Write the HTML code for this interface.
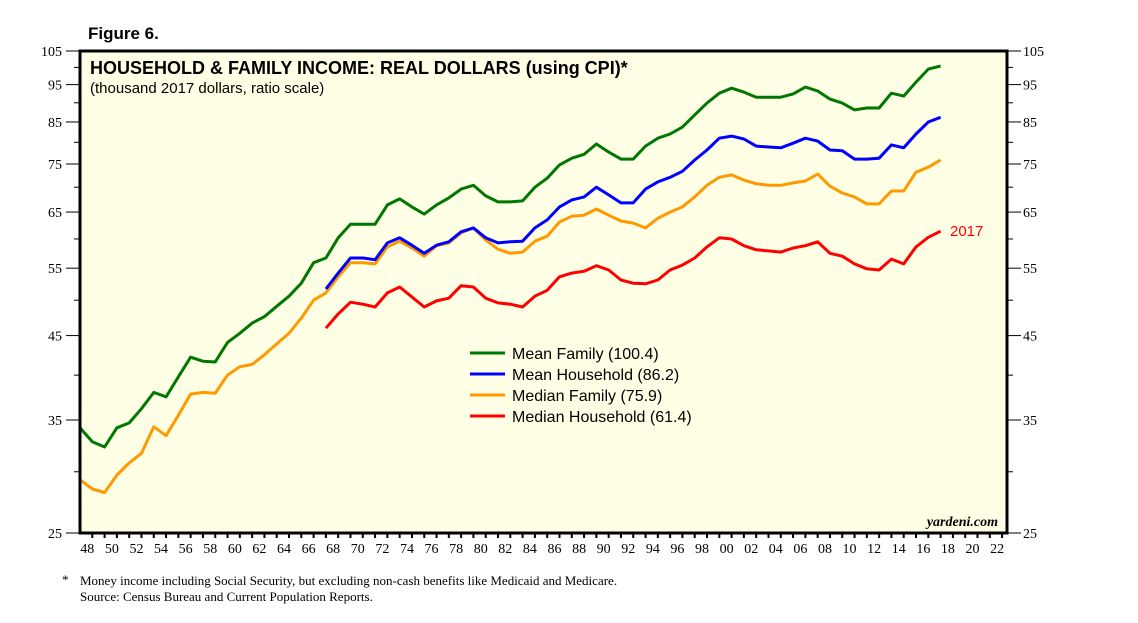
<!DOCTYPE html>
<html><head><meta charset="utf-8"><style>
body{margin:0;background:#fff;}
svg{display:block;font-family:"Liberation Sans",sans-serif;}
</style></head><body>
<svg id="chart" width="1138" height="623" xmlns="http://www.w3.org/2000/svg">
<text x="88" y="39" font-size="17" font-weight="bold">Figure 6.</text>
<rect x="80" y="51" width="927" height="482" fill="#FFFFE6"/>
<g id="grid"></g>
<g id="series"></g>
<rect x="80" y="51" width="927" height="482" fill="none" stroke="#000" stroke-width="3"/>
<text x="90" y="74" font-size="18" font-weight="bold">HOUSEHOLD &amp; FAMILY INCOME: REAL DOLLARS (using CPI)*</text>
<text x="90" y="93" font-size="15">(thousand 2017 dollars, ratio scale)</text>
<text x="998" y="526" font-size="14" font-style="italic" font-weight="bold" text-anchor="end" font-family="Liberation Serif, serif">yardeni.com</text>
<g id="legend"></g>
<text x="62" y="584" font-size="13" font-family="Liberation Serif, serif">*</text>
<text x="80" y="585" font-size="13" font-family="Liberation Serif, serif">Money income including Social Security, but excluding non-cash benefits like Medicaid and Medicare.</text>
<text x="80" y="601" font-size="13" font-family="Liberation Serif, serif">Source: Census Bureau and Current Population Reports.</text>
</svg>
<script>
const meanFamily=[34.2,32.8,32.3,34.2,34.7,36.2,38.0,37.5,39.8,42.2,41.7,41.6,44.1,45.3,46.7,47.6,49.1,50.6,52.6,55.9,56.7,60.2,62.7,62.7,62.7,66.4,67.6,66.0,64.6,66.4,67.8,69.6,70.4,68.2,67.0,67.0,67.2,70.0,71.9,74.8,76.3,77.2,79.6,77.7,76.1,76.1,79.1,81.0,82.0,83.7,86.8,89.9,92.6,94.0,92.9,91.5,91.5,91.5,92.4,94.3,93.2,91.0,89.9,88.1,88.6,88.6,92.6,91.8,95.7,99.5,100.4];
const meanHousehold=[51.7,54.2,56.7,56.7,56.4,59.3,60.2,58.9,57.5,58.9,59.5,61.3,62.0,60.2,59.3,59.5,59.6,62.0,63.5,66.0,67.4,68.0,70.0,68.4,66.8,66.8,69.6,71.1,72.1,73.4,75.9,78.2,81.0,81.5,80.8,79.1,78.9,78.7,79.8,81.0,80.3,78.2,78.0,76.1,76.1,76.3,79.4,78.7,82.0,85.0,86.2];
const medianFamily=[29.3,28.5,28.2,29.7,30.8,31.7,34.3,33.4,35.5,37.8,38.0,37.9,40.0,41.0,41.3,42.5,43.9,45.3,47.4,50.0,51.1,53.6,55.9,55.9,55.7,58.6,59.6,58.4,57.0,58.8,59.3,61.1,62.0,59.8,58.2,57.5,57.7,59.6,60.5,63.1,64.2,64.4,65.6,64.4,63.3,62.9,62.0,63.8,65.0,66.0,68.0,70.4,72.1,72.6,71.5,70.7,70.4,70.4,70.9,71.3,72.8,70.2,68.8,68.0,66.6,66.6,69.2,69.2,73.2,74.3,75.9];
const medianHousehold=[46.0,48.0,49.7,49.4,49.0,51.1,52.0,50.5,49.0,49.9,50.3,52.2,52.0,50.3,49.6,49.4,49.0,50.6,51.5,53.6,54.2,54.5,55.4,54.7,53.1,52.6,52.5,53.1,54.7,55.5,56.7,58.6,60.2,60.0,58.8,58.1,57.9,57.7,58.4,58.8,59.5,57.5,57.0,55.7,54.9,54.7,56.5,55.7,58.6,60.3,61.4];
const yTicks=[25,35,45,55,65,75,85,95,105];
const yMinor=[30,40,50,60,70,80,90,100];
const xYears=[];for(let y=1948;y<=2022;y+=2)xYears.push(y);
const legendLabels=["Mean Family (100.4)","Mean Household (86.2)","Median Family (75.9)","Median Household (61.4)"];

const NS="http://www.w3.org/2000/svg";
const X0=80,X1=1007,Y0=51,Y1=533,VMIN=25,VMAX=105,YRMIN=1947,YRMAX=2022.4;
function xs(yr){return X0+(yr-YRMIN)/(YRMAX-YRMIN)*(X1-X0);}
function ys(v){return Y1-Math.log(v/VMIN)/Math.log(VMAX/VMIN)*(Y1-Y0);}
function mk(tag,attrs,parent){const e=document.createElementNS(NS,tag);for(const k in attrs)e.setAttribute(k,attrs[k]);parent.appendChild(e);return e;}
const grid=document.getElementById('grid');
yTicks.forEach(v=>{
  const y=ys(v);
  let t=mk('line',{x1:66,x2:80,y1:y,y2:y,stroke:'#000','stroke-width':1},grid);
  
  
  t=mk('line',{x1:1007,x2:1021,y1:y,y2:y,stroke:'#000','stroke-width':1},grid);
  
  
  let l=mk('text',{x:62,y:y+5,'font-size':14,'text-anchor':'end','font-family':'Liberation Serif, serif'},grid);l.textContent=v;
  
  
  l=mk('text',{x:1023,y:y+5,'font-size':14,'font-family':'Liberation Serif, serif'},grid);l.textContent=v;
  
  
});
yMinor.forEach(v=>{
  const y=ys(v);
  let t=mk('line',{x1:74,x2:80,y1:y,y2:y,stroke:'#000','stroke-width':1},grid);
  
  
  t=mk('line',{x1:1007,x2:1013,y1:y,y2:y,stroke:'#000','stroke-width':1},grid);
  
  
});
for(let yr=1948;yr<=2022;yr++){
  const x=xs(yr);
  const t=mk('line',{x1:x,x2:x,y1:533,y2:538,stroke:'#000','stroke-width':2},grid);
  
  
}
xYears.forEach(yr=>{
  const l=mk('text',{x:xs(yr)-5,y:553,'font-size':14,'text-anchor':'middle','font-family':'Liberation Serif, serif'},grid);
  l.textContent=String(yr%100).padStart(2,'0');
  
  
});
const series=document.getElementById('series');
function drawLine(data,start,color,name){
  const pts=data.map((v,i)=>xs(start+i).toFixed(1)+','+ys(v).toFixed(1)).join(' ');
  const p=mk('polyline',{points:pts,fill:'none',stroke:color,'stroke-width':3,'stroke-linejoin':'round'},series);
  
  
}
drawLine(medianFamily,1947,'#FF9900','median-family-line');
drawLine(meanHousehold,1967,'#0000FF','mean-household-line');
drawLine(meanFamily,1947,'#007700','mean-family-line');
drawLine(medianHousehold,1967,'#FF0000','median-household-line');
const lastY=ys(medianHousehold[medianHousehold.length-1]);
const lab=mk('text',{x:950,y:lastY+5,'font-size':15,fill:'#FF0000'},series);lab.textContent='2017';


const legend=document.getElementById('legend');
const colors=['#007700','#0000FF','#FF9900','#FF0000'];
legendLabels.forEach((t,i)=>{
  const y=353+i*21;
  const g=mk('g',{},legend);
  
  
  mk('line',{x1:470,x2:505,y1:y,y2:y,stroke:colors[i],'stroke-width':3},g);
  const tx=mk('text',{x:512,y:y+6,'font-size':16},g);tx.textContent=t;
});
</script>
</body></html>
